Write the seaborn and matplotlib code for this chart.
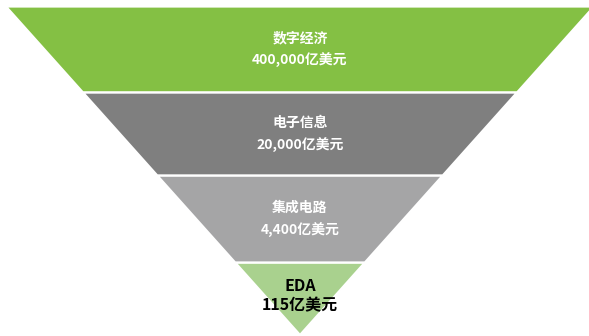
import matplotlib
matplotlib.use("Agg")
import matplotlib.pyplot as plt
import seaborn as sns
import pandas as pd

# ---- data ----
categories = ["数字经济", "电子信息", "集成电路", "EDA"]
values = [400000, 20000, 4400, 115]
value_labels = ["400,000亿美元", "20,000亿美元", "4,400亿美元", "115亿美元"]

# ---- styles / layout ----
colors = ["#84C044", "#7F7F7F", "#A5A5A6", "#A9D18E"]
text_colors = ["white", "white", "white", "black"]
font_sizes = [10, 10, 10, 11.5]
# band boundaries as fractions of the funnel height (top -> apex)
bounds = [0.0, 0.262, 0.515, 0.78, 1.0]

sns.set_theme(style="white")
plt.rcParams['font.family'] = ['Noto Sans CJK SC', 'DejaVu Sans']

df = pd.DataFrame({"category": categories, "value": values, "label": value_labels})

fig = plt.figure(figsize=(5.89, 3.36), dpi=100)
ax = fig.add_axes([0, 0, 1, 1])
ax.set_xlim(0, 589)
ax.set_ylim(336, 0)
ax.axis("off")

cx, top, apex, half_w = 300, 6.5, 335, 294
H = apex - top

def half_width(y):
    return half_w * (apex - y) / H

for i, row in df.iterrows():
    y0 = top + bounds[i] * H
    y1 = top + bounds[i + 1] * H
    w0, w1 = half_width(y0), half_width(y1)
    xs = [cx - w0, cx + w0, cx + w1, cx - w1]
    ys = [y0, y0, y1, y1]
    ax.fill(xs, ys, color=colors[i], edgecolor="white", linewidth=1.6)
    if i < 3:
        ym = (y0 + y1) / 2
        t1, t2 = ym - 11, ym + 11
    else:
        t1, t2 = y0 + 23, y0 + 43
    ax.text(cx, t1, row["category"], ha="center", va="center",
            color=text_colors[i], fontsize=font_sizes[i], fontweight="bold")
    ax.text(cx, t2, row["label"], ha="center", va="center",
            color=text_colors[i], fontsize=font_sizes[i], fontweight="bold")

fig.savefig("out.png", dpi=100)
